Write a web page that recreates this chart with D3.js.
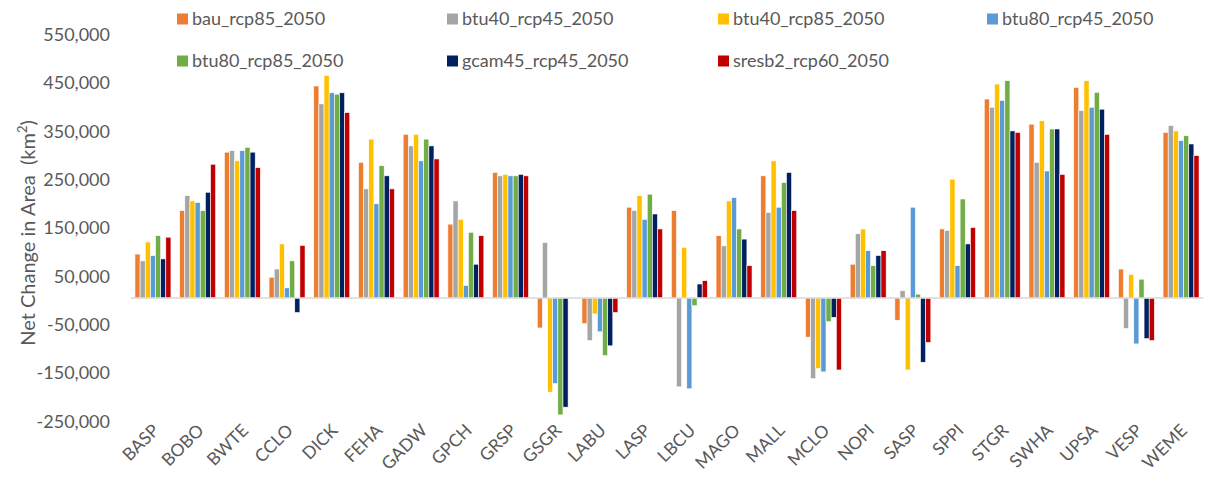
<!DOCTYPE html>
<html>
<head>
<meta charset="utf-8">
<script src="https://cdn.jsdelivr.net/npm/d3@7"></script>
<style>
  html, body { margin: 0; padding: 0; background: #fff; }
  svg { display: block; font-family: Lato, "Open Sans", sans-serif; }
</style>
</head>
<body>
<svg id="chart" width="1216" height="483"></svg>
<script>
const categories = ["BASP","BOBO","BWTE","CCLO","DICK","FEHA","GADW","GPCH","GRSP","GSGR","LABU","LASP","LBCU","MAGO","MALL","MCLO","NOPI","SASP","SPPI","STGR","SWHA","UPSA","VESP","WEME"];
const seriesNames = ["bau_rcp85_2050","btu40_rcp45_2050","btu40_rcp85_2050","btu80_rcp45_2050","btu80_rcp85_2050","gcam45_rcp45_2050","sresb2_rcp60_2050"];
const seriesColors = ["#ED7D31","#A5A5A5","#FFC000","#5B9BD5","#70AD47","#002060","#C00000"];

const bau_rcp85    = [91000,181000,302000,43000,439000,281000,339000,153000,260000,-62000,-53000,188000,181000,129000,253000,-81000,70000,-46000,143000,412000,360000,436000,60000,343000];
const btu40_rcp45  = [77000,212000,305000,60000,402000,226000,315000,201000,253000,115000,-88000,181000,-184000,108000,177000,-167000,133000,15000,140000,395000,281000,388000,-63000,357000];
const btu40_rcp85  = [116000,201000,284000,112000,461000,329000,339000,163000,256000,-195000,-33000,212000,105000,201000,284000,-146000,143000,-149000,246000,443000,367000,450000,49000,346000];
const btu80_rcp45  = [88000,198000,305000,21000,425000,195000,284000,26000,253000,-177000,-70000,163000,-188000,208000,188000,-153000,98000,188000,67000,409000,263000,395000,-95000,326000];
const btu80_rcp85  = [129000,181000,312000,77000,422000,274000,329000,136000,253000,-242000,-119000,215000,-16000,143000,239000,-49000,67000,8000,205000,450000,350000,426000,39000,336000];
const gcam45_rcp45 = [81000,219000,302000,-30000,425000,253000,315000,70000,256000,-226000,-99000,174000,29000,122000,260000,-40000,88000,-133000,112000,346000,350000,391000,-84000,319000];
const sresb2_rcp60 = [126000,277000,270000,109000,384000,226000,288000,129000,253000,0,-30000,143000,36000,67000,181000,-149000,98000,-92000,146000,343000,256000,339000,-88000,295000];

const seriesValues = [bau_rcp85, btu40_rcp45, btu40_rcp85, btu80_rcp45, btu80_rcp85, gcam45_rcp45, sresb2_rcp60];
const yTicks = [-250000,-150000,-50000,50000,150000,250000,350000,450000,550000];

const svg = d3.select("#chart");
const textColor = "#595959";

const x0 = d3.scaleBand().domain(categories).range([130.6, 1203.4]).paddingInner(0.195).paddingOuter(0.0975);
const x1 = d3.scaleBand().domain(seriesNames).range([0, x0.bandwidth()]).padding(0);
const y = d3.scaleLinear().domain([-250000, 550000]).range([418.75, 32.4]);

// y axis labels
const fmt = d3.format(",");
const yAxis = d3.axisLeft(y).tickValues(yTicks).tickSize(0).tickPadding(0)
  .tickFormat(d => fmt(d).replace("\u2212", "-"));
const yg = svg.append("g").attr("transform", "translate(110,2.5)").call(yAxis);
yg.select(".domain").remove();
yg.selectAll("text").attr("fill", textColor).style("font-size", "18px").style("font-family", "Lato, sans-serif");

// bars
const groups = svg.append("g").selectAll("g")
  .data(categories)
  .join("g")
  .attr("transform", d => `translate(${x0(d)},0)`);

groups.selectAll("rect")
  .data((c, ci) => seriesNames.map((s, si) => ({ s, si, v: seriesValues[si][ci] })))
  .join("rect")
  .attr("x", d => x1(d.s))
  .attr("width", x1.bandwidth())
  .attr("y", d => Math.min(y(d.v), y(0)))
  .attr("height", d => Math.abs(y(d.v) - y(0)))
  .attr("fill", d => seriesColors[d.si])
  .attr("stroke", "#fff")
  .attr("stroke-width", 0.6);

// zero line
svg.append("line")
  .attr("x1", x0.range()[0]).attr("x2", x0.range()[1])
  .attr("y1", y(0)).attr("y2", y(0))
  .attr("stroke", "#D9D9D9").attr("stroke-width", 1.5);

// x labels
const xAxis = d3.axisBottom(x0).tickSize(0).tickPadding(0);
const xg = svg.append("g").attr("transform", "translate(0,430)").call(xAxis);
xg.select(".domain").remove();
xg.selectAll("text")
  .attr("fill", textColor)
  .style("font-size", "17.5px")
  .style("font-family", "Lato, sans-serif")
  .attr("text-anchor", "end")
  .attr("x", 4).attr("y", 0).attr("dy", "0.35em")
  .attr("transform", "rotate(-45)");

// y title
const title = svg.append("text")
  .attr("transform", "translate(35,233) rotate(-90)")
  .attr("text-anchor", "middle")
  .attr("fill", textColor)
  .style("font-size", "20px");
title.append("tspan").text("Net Change in Area\u00a0 (km");
title.append("tspan").text("2").attr("baseline-shift", "super").style("font-size", "13px");
title.append("tspan").text(")");

// legend
const legCols = [177, 447, 718, 987];
const legRows = [19, 61];
const legend = svg.append("g").selectAll("g")
  .data(seriesNames)
  .join("g")
  .attr("transform", (d, i) => `translate(${legCols[i % 4]},${legRows[Math.floor(i / 4)]})`);
legend.append("rect").attr("x", 0).attr("y", -5.5).attr("width", 11).attr("height", 11)
  .attr("fill", (d, i) => seriesColors[i]);
legend.append("text").attr("x", 15).attr("dy", "0.35em")
  .attr("fill", textColor).style("font-size", "18px").text(d => d);
</script>
</body>
</html>
